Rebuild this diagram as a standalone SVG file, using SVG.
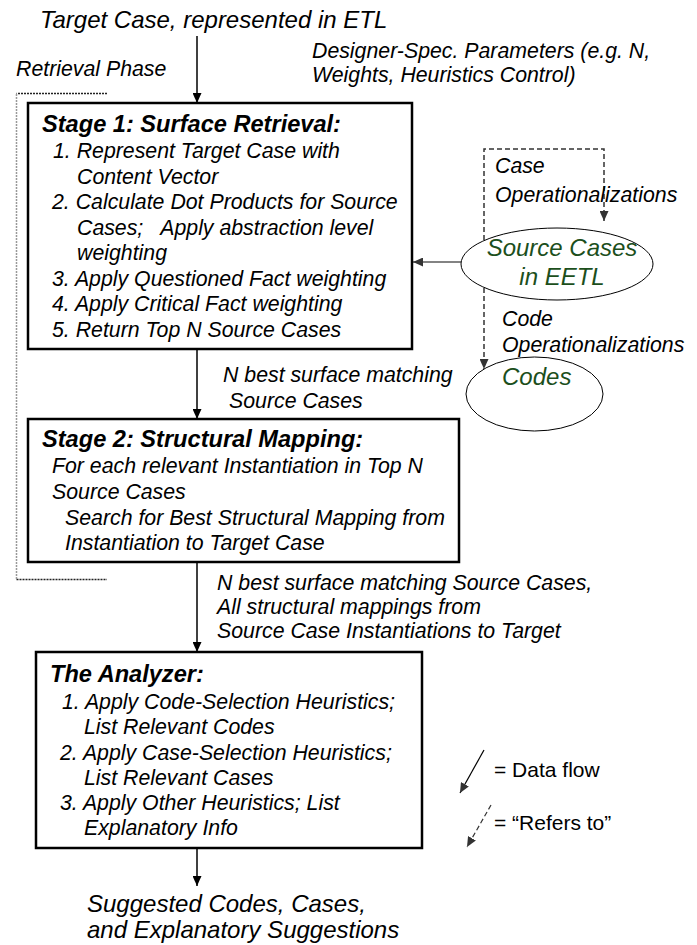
<svg xmlns="http://www.w3.org/2000/svg" width="697" height="945" viewBox="0 0 697 945">
<style>
text{font-family:"Liberation Sans",Arial,sans-serif;fill:#000}
.it{font-style:italic;font-size:21.3px}
.big{font-style:italic;font-size:24px}
.hd{font-style:italic;font-weight:bold;font-size:23.6px}
.gr{font-style:italic;font-size:24px;fill:#1c4f1c}
.lg{font-size:21px}
.box{fill:#fff;stroke:#000;stroke-width:2.5}
.ell{fill:#fff;stroke:#000;stroke-width:1}
.flow{stroke:#000;stroke-width:1.5;fill:none}
.ref{stroke:#333;stroke-width:1.5;fill:none;stroke-dasharray:5,3}
</style>
<defs>
<marker id="ah" markerWidth="10" markerHeight="9" refX="10" refY="4.5" orient="auto" markerUnits="userSpaceOnUse"><path d="M0,0 L10,4.5 L0,9 z" fill="#000"/></marker>
<marker id="ahg" markerWidth="10" markerHeight="9" refX="10" refY="4.5" orient="auto" markerUnits="userSpaceOnUse"><path d="M0,0 L10,4.5 L0,9 z" fill="#333"/></marker>
</defs>

<g id="connectors">
<path class="flow" d="M197,36 V103" marker-end="url(#ah)"/>
<path class="flow" d="M197,349 V419" marker-end="url(#ah)"/>
<path class="flow" d="M197,562 V652" marker-end="url(#ah)"/>
<path class="flow" d="M197,848 V886" marker-end="url(#ah)"/>
<path d="M461,262 H413" stroke="#5a5a5a" stroke-width="1.5" fill="none" marker-end="url(#ahg)"/>
<path class="ref" d="M484,264 V149 H604 V221" marker-end="url(#ahg)"/>
<path class="ref" d="M484,264 V369" marker-end="url(#ahg)"/>
</g>

<g id="retrieval-phase">
<path d="M107,93.5 H16.5 M16.5,579.5 H107" stroke="#222" stroke-width="1.5" stroke-dasharray="2,1" fill="none"/>
<path d="M16.5,94 V579" stroke="#999" stroke-width="1.5" stroke-dasharray="2,1" fill="none"/>
<text class="it" x="16" y="76">Retrieval Phase</text>
</g>

<g id="target-case">
<text class="big" x="40" y="28">Target Case, represented in ETL</text>
</g>

<g id="designer-params">
<text class="it" x="312" y="58">Designer-Spec. Parameters (e.g. N,</text>
<text class="it" x="312" y="82">Weights, Heuristics Control)</text>
</g>

<g id="stage1">
<rect class="box" x="28" y="103" width="384" height="246"/>
<text class="hd" x="42" y="132">Stage 1: Surface Retrieval:</text>
<text class="it" x="53" y="158">1. Represent Target Case with</text>
<text class="it" x="77" y="183.5">Content Vector</text>
<text class="it" x="52" y="209">2. Calculate Dot Products for Source</text>
<text class="it" x="77" y="234.5" xml:space="preserve">Cases;   Apply abstraction level</text>
<text class="it" x="77" y="260">weighting</text>
<text class="it" x="52" y="285.5">3. Apply Questioned Fact weighting</text>
<text class="it" x="52" y="311">4. Apply Critical Fact weighting</text>
<text class="it" x="52" y="336.5">5. Return Top N Source Cases</text>
</g>

<g id="label-stage1-out">
<text class="it" x="223" y="382">N best surface matching</text>
<text class="it" x="229" y="408">Source Cases</text>
</g>

<g id="case-op-label">
<text class="it" x="495" y="173">Case</text>
<text class="it" x="495" y="202">Operationalizations</text>
</g>

<g id="source-cases">
<ellipse class="ell" cx="557" cy="264" rx="96" ry="36"/>
<text class="gr" x="562" y="256" text-anchor="middle">Source Cases</text>
<text class="gr" x="562" y="285" text-anchor="middle">in EETL</text>
</g>

<g id="code-op-label">
<text class="it" x="502" y="326">Code</text>
<text class="it" x="502" y="352">Operationalizations</text>
</g>

<g id="codes">
<ellipse class="ell" cx="534.5" cy="394" rx="68.5" ry="37"/>
<text class="gr" x="502" y="385">Codes</text>
</g>

<g id="stage2">
<rect class="box" x="28" y="419" width="431" height="143"/>
<text class="hd" x="42" y="447">Stage 2: Structural Mapping:</text>
<text class="it" x="52" y="473">For each relevant Instantiation in Top N</text>
<text class="it" x="52" y="499">Source Cases</text>
<text class="it" x="65" y="524.5">Search for Best Structural Mapping from</text>
<text class="it" x="65" y="550">Instantiation to Target Case</text>
</g>

<g id="label-stage2-out">
<text class="it" x="217" y="590">N best surface matching Source Cases,</text>
<text class="it" x="217" y="614">All structural mappings from</text>
<text class="it" x="217" y="638">Source Case Instantiations to Target</text>
</g>

<g id="analyzer">
<rect class="box" x="36" y="652" width="386" height="196"/>
<text class="hd" x="50" y="682">The Analyzer:</text>
<text class="it" x="62" y="709">1. Apply Code-Selection Heuristics;</text>
<text class="it" x="84" y="733.5">List Relevant Codes</text>
<text class="it" x="60" y="760">2. Apply Case-Selection Heuristics;</text>
<text class="it" x="84" y="785">List Relevant Cases</text>
<text class="it" x="60" y="810">3. Apply Other Heuristics; List</text>
<text class="it" x="84" y="835">Explanatory Info</text>
</g>

<g id="output">
<text class="big" x="87" y="912">Suggested Codes, Cases,</text>
<text class="big" x="87" y="938">and Explanatory Suggestions</text>
</g>

<g id="legend">
<path d="M484,750 L460,793" stroke="#000" stroke-width="1.2" fill="none" marker-end="url(#ahg)"/>
<text class="lg" x="494" y="777">= Data flow</text>
<path d="M491,805 L467,847" stroke="#333" stroke-width="1.2" stroke-dasharray="5,3" fill="none" marker-end="url(#ahg)"/>
<text class="lg" x="494" y="830">= “Refers to”</text>
</g>
</svg>
